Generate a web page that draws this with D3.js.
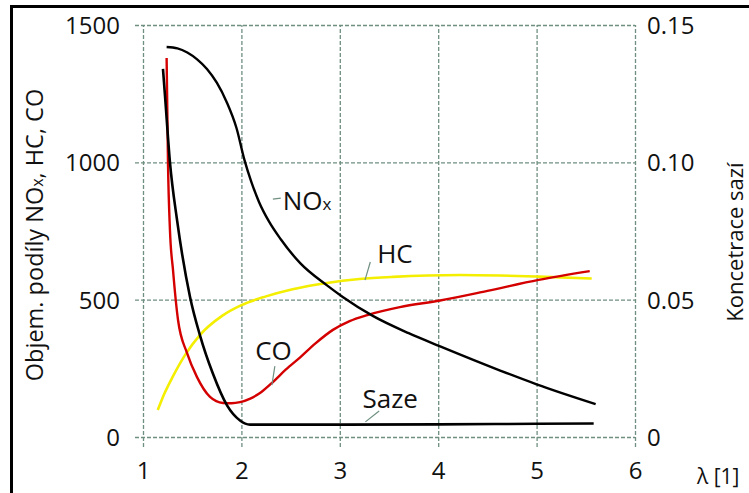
<!DOCTYPE html>
<html>
<head>
<meta charset="utf-8">
<script src="https://cdn.jsdelivr.net/npm/d3@7"></script>
<style>
  html, body { margin: 0; padding: 0; background: #fff; }
  svg { display: block; }
  text { font-family: "Open Sans", "Noto Sans", sans-serif; fill: #111; }
</style>
</head>
<body>
<svg id="chart" width="749" height="493"></svg>
<script>
// ---- data ----
const xTicks = [1, 2, 3, 4, 5, 6];
const yLeftTicks = [0, 500, 1000, 1500];
const yRightTicks = [0, 0.05, 0.10, 0.15];
const yRightLabels = ["0", "0.05", "0.10", "0.15"];

// NOx (left axis, volume share)
const noxLambda = [1.24, 1.35, 1.45, 1.55, 1.65, 1.75, 1.85, 1.95, 2.03, 2.10, 2.18, 2.28, 2.40, 2.60, 2.87, 3.03, 3.34, 3.70, 4.02, 4.63, 5.00, 5.60];
const noxValue  = [1420, 1415, 1400, 1375, 1340, 1290, 1220, 1125, 1010, 930, 855, 785, 720, 632, 552, 510, 440, 378, 330, 242, 192, 120];

// CO (left axis)
const coLambda = [1.24, 1.254, 1.274, 1.305, 1.356, 1.447, 1.549, 1.681, 1.813, 1.90, 1.986, 2.09, 2.20, 2.32, 2.45, 2.60, 2.75, 2.93, 3.10, 3.28, 3.61, 4.02, 4.50, 5.02, 5.54];
const coValue  = [1380, 997, 753, 608, 426, 306, 218, 146, 124, 123, 127, 140, 163, 200, 245, 291, 340, 390, 422, 444, 473, 497, 532, 572, 604];

// HC (left axis)
const hcLambda = [1.15, 1.22, 1.30, 1.43, 1.58, 1.80, 2.00, 2.25, 2.52, 2.87, 3.20, 3.54, 4.22, 4.63, 5.02, 5.56];
const hcValue  = [98, 160, 218, 300, 372, 440, 480, 512, 538, 561, 575, 583, 590, 588, 584, 577];

// Saze / soot (right axis, concentration)
const sazeLambda = [1.203, 1.224, 1.274, 1.346, 1.478, 1.579, 1.711, 1.854, 1.986, 2.087, 2.5, 3.0, 4.0, 5.0, 5.58];
const sazeValue  = [0.134, 0.124, 0.100, 0.079, 0.051, 0.037, 0.023, 0.0115, 0.006, 0.0045, 0.0045, 0.0045, 0.0046, 0.0048, 0.0049];

// ---- drawing ----
const svg = d3.select("#chart");
const x = d3.scaleLinear().domain([1, 6]).range([143, 635]);
const yL = d3.scaleLinear().domain([0, 1500]).range([437, 25]);
const yR = d3.scaleLinear().domain([0, 0.15]).range([437, 25]);

const gridColor = "#6f8f80";

// outer frame
svg.append("rect").attr("x", 11.5).attr("y", 6.5).attr("width", 900).attr("height", 700)
  .attr("fill", "none").attr("stroke", "#000").attr("stroke-width", 3);

// left axis with horizontal grid
const gl = svg.append("g").attr("transform", "translate(135,0)")
  .call(d3.axisLeft(yL).tickValues(yLeftTicks).tickSizeInner(-(635 - 135)).tickSizeOuter(0).tickPadding(15).tickFormat(d3.format("d")));
// bottom axis with vertical grid
const gb = svg.append("g").attr("transform", "translate(0,447)")
  .call(d3.axisBottom(x).tickValues(xTicks).tickSizeInner(-(447 - 25)).tickSizeOuter(0).tickPadding(15).tickFormat(d3.format("d")));
// right axis
const gr = svg.append("g").attr("transform", "translate(635,0)")
  .call(d3.axisRight(yR).tickValues(yRightTicks).tickSize(0).tickPadding(12).tickFormat((d, i) => yRightLabels[i]));

[gl, gb, gr].forEach(g => {
  g.select(".domain").remove();
  g.selectAll(".tick line").attr("stroke", gridColor).attr("stroke-width", 1.3).attr("stroke-dasharray", "4,2");
  g.selectAll(".tick text").style("font-size", "24px").attr("fill", "#111");
});
gl.selectAll(".tick text").attr("dy", "0.36em");
gr.selectAll(".tick text").attr("dy", "0.36em");

// curves
const line = (ys) => d3.line().x(d => x(d[0])).y(d => ys(d[1])).curve(d3.curveMonotoneX);
const zip = (a, b) => a.map((v, i) => [v, b[i]]);

svg.append("path").datum(zip(hcLambda, hcValue)).attr("d", line(yL))
  .attr("fill", "none").attr("stroke", "#f4ee00").attr("stroke-width", 2.6);
svg.append("path").datum(zip(coLambda, coValue)).attr("d", line(yL))
  .attr("fill", "none").attr("stroke", "#d40000").attr("stroke-width", 2.4);
svg.append("path").datum(zip(noxLambda, noxValue)).attr("d", line(yL))
  .attr("fill", "none").attr("stroke", "#000").attr("stroke-width", 2.4);
svg.append("path").datum(zip(sazeLambda, sazeValue)).attr("d", line(yR))
  .attr("fill", "none").attr("stroke", "#000").attr("stroke-width", 2.6);

// annotations (placed in data coordinates)
const leaderColor = "#6f8f80";
function leader(x1, y1, x2, y2) {
  svg.append("line").attr("x1", x(x1)).attr("y1", yL(y1)).attr("x2", x(x2)).attr("y2", yL(y2))
    .attr("stroke", leaderColor).attr("stroke-width", 1.2);
}
leader(2.32, 866, 2.40, 870);
leader(3.256, 571, 3.31, 637);
leader(2.31, 189, 2.34, 258);
leader(3.26, 55, 3.40, 95);

const lab = svg.append("g").style("font-size", "26px");
const nox = lab.append("text").attr("x", x(2.42)).attr("y", yL(826));
nox.append("tspan").text("NO");
nox.append("tspan").style("font-size", "17px").text("x");
lab.append("text").attr("x", x(3.38)).attr("y", yL(633)).text("HC");
lab.append("text").attr("x", x(2.14)).attr("y", yL(280)).text("CO");
lab.append("text").attr("x", x(3.23)).attr("y", yL(106)).text("Saze");

// axis titles
const lt = svg.append("text").attr("transform", "translate(43,235) rotate(-90)")
  .attr("text-anchor", "middle").style("font-size", "23.5px");
lt.append("tspan").text("Objem. podíly NO");
lt.append("tspan").style("font-size", "16px").text("x");
lt.append("tspan").text(", HC, CO");

svg.append("text").attr("transform", "translate(743,242) rotate(-90)")
  .attr("text-anchor", "middle").style("font-size", "22px").text("Koncetrace sazí");

svg.append("text").attr("x", 697).attr("y", 484).style("font-size", "21px").text("λ [1]");
</script>
</body>
</html>
